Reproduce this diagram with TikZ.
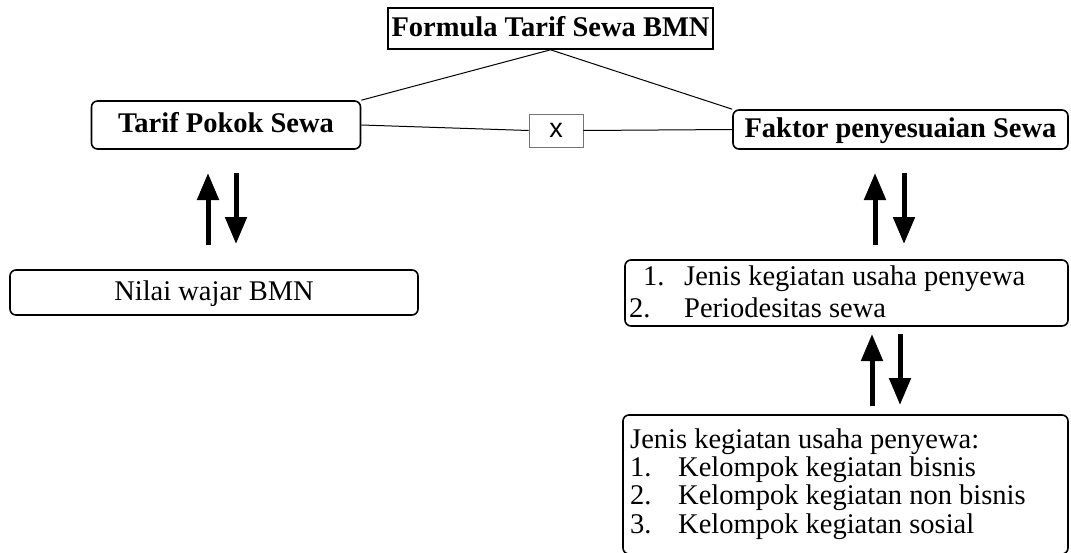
\documentclass[tikz,border=0pt]{standalone}
\usepackage{fontspec}
\setmainfont{Liberation Serif}
\newfontfamily\xsans{Liberation Sans}
\usetikzlibrary{arrows.meta}
\begin{document}
\begin{tikzpicture}[x=1pt,y=-1pt,
  box/.style={draw, line width=1.6pt, rounded corners=6pt, inner sep=0pt,
    text height=19.6pt, text depth=4.2pt},
  txt/.style={font=\fontsize{28.5}{30}\selectfont},
  btxt/.style={font=\fontsize{28.5}{30}\selectfont\bfseries},
  ltxt/.style={font=\fontsize{28.5}{30}\selectfont, anchor=base west, inner sep=0pt},
  conn/.style={line width=1pt},
  barrow/.style={line width=5pt, -{Triangle[width=21pt,length=27pt]}}]
\useasboundingbox (0,0) rectangle (1071,552);
% boxes
\node[box, sharp corners, minimum width=325pt, minimum height=41pt, btxt] (formula) at (550.5,28.5) {Formula Tarif Sewa BMN};
\node[box, minimum width=269pt, minimum height=48pt, btxt] (tarif) at (226,125) {Tarif Pokok Sewa};
\node[draw=black!55, line width=0.8pt, minimum width=54pt, minimum height=33pt, inner sep=0pt,
  font=\xsans\fontsize{27}{28}\selectfont] (times) at (556,130.5) {x};
\node[box, minimum width=335pt, minimum height=39pt, btxt] (faktor) at (900.5,129.5) {Faktor penyesuaian Sewa};
\node[box, minimum width=408pt, minimum height=45pt, txt] (nilai) at (214,292.5) {Nilai wajar BMN};
\node[box, minimum width=443pt, minimum height=66pt] (opts) at (846.5,293) {};
\node[box, minimum width=445pt, minimum height=139pt] (jenis) at (845.5,484.5) {};
% list texts
\node[ltxt] (o1n) at (643,285) {1.};
\node[ltxt] (o1t) at (684,285) {Jenis kegiatan usaha penyewa};
\node[ltxt] (o2n) at (629,317) {2.};
\node[ltxt] (o2t) at (684,317) {Periodesitas sewa};
\node[ltxt] (j0) at (630,448) {Jenis kegiatan usaha penyewa:};
\node[ltxt] (j1n) at (630,476) {1.};
\node[ltxt] (j1t) at (678,476) {Kelompok kegiatan bisnis};
\node[ltxt] (j2n) at (630,504.5) {2.};
\node[ltxt] (j2t) at (678,504.5) {Kelompok kegiatan non bisnis};
\node[ltxt] (j3n) at (630,533) {3.};
\node[ltxt] (j3t) at (678,533) {Kelompok kegiatan sosial};
% connectors
\draw[conn] (formula.south) -- (tarif.north east);
\draw[conn] (formula.south) -- (faktor.north west);
\draw[conn] (tarif.east) -- (times.west);
\draw[conn] (times.east) -- (faktor.west);
% arrow end points
\coordinate (la1) at (208,245); \coordinate (la2) at (208,173);
\coordinate (lb1) at (236,173); \coordinate (lb2) at (236,244);
\coordinate (ra1) at (875,245); \coordinate (ra2) at (875,173);
\coordinate (rb1) at (904,173); \coordinate (rb2) at (904,244);
\coordinate (sa1) at (872,406); \coordinate (sa2) at (872,334);
\coordinate (sb1) at (900,334); \coordinate (sb2) at (900,405);
\draw[barrow] (la1) -- (la2);
\draw[barrow] (lb1) -- (lb2);
\draw[barrow] (ra1) -- (ra2);
\draw[barrow] (rb1) -- (rb2);
\draw[barrow] (sa1) -- (sa2);
\draw[barrow] (sb1) -- (sb2);
\end{tikzpicture}
\end{document}
